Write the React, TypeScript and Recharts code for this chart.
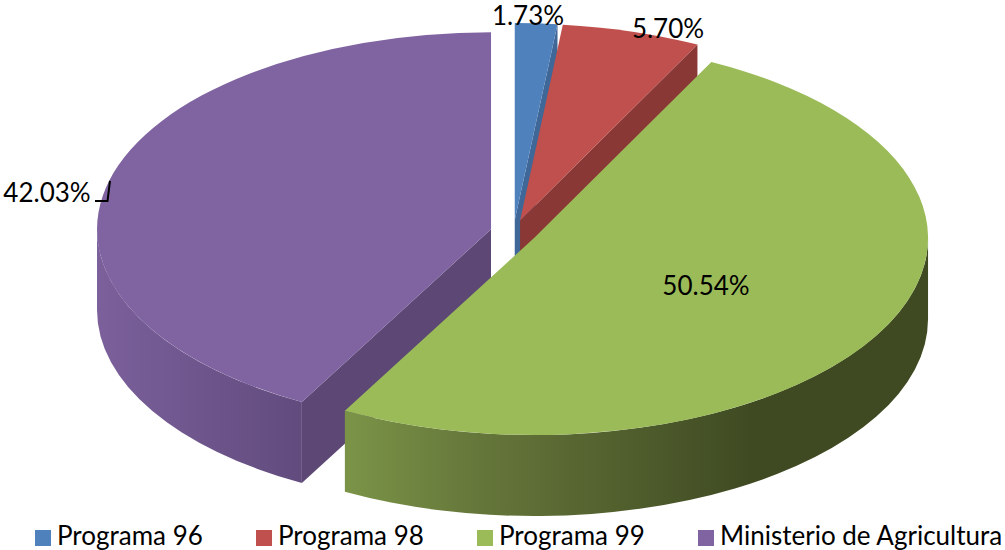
import React from "react";
import { PieChart, Pie, Legend } from "recharts";

const categories = ["Programa 96", "Programa 98", "Programa 99", "Ministerio de Agricultura"];
const shares = [1.73, 5.7, 50.54, 42.03];
const topColors = ["#4f81bd", "#c0504d", "#9bbb59", "#8064a2"];
const faceColors = ["#3f6797", "#893836", "#3f4a22", "#5c4775"];

const data = categories.map((name, i) => ({ name, value: shares[i], fill: topColors[i] }));

const FRONT = "Programa 99";
const FONT = "Lato, 'Open Sans', sans-serif";
const RATIO = 0.5;
const DEPTH = 81;
const EXPLODE_X = 23.2;
const EXPLODE_Y = 12.3;
const LABEL_SPOTS: Record<string, { dx: number; dy: number; anchor: string }> = {
  "Programa 96": { dx: 14.5, dy: -217.5, anchor: "middle" },
  "Programa 98": { dx: 154.5, dy: -204.5, anchor: "middle" },
  "Programa 99": { dx: 192.5, dy: 53, anchor: "middle" },
  "Ministerio de Agricultura": { dx: -466.5, dy: -40, anchor: "middle" },
};

const rad = (d: number) => (d * Math.PI) / 180;

function wedge(props: any) {
  const { cx, cy, outerRadius, startAngle, endAngle, name } = props;
  const t0 = 90 - startAngle;
  const t1 = 90 - endAngle;
  const mid = (t0 + t1) / 2;
  const rx = outerRadius;
  const ry = outerRadius * RATIO;
  const ox = cx + EXPLODE_X * Math.sin(rad(mid));
  const oy = cy - EXPLODE_Y * Math.cos(rad(mid));
  const pt = (t: number, d = 0): [number, number] => [ox + rx * Math.sin(rad(t)), oy - ry * Math.cos(rad(t)) + d];
  const idx = categories.indexOf(name);
  const face = faceColors[idx];
  const parts: React.ReactNode[] = [];

  const faceAt = (t: number, key: string) => {
    const [x, y] = pt(t);
    return (
      <path key={key} fill={face} d={`M${ox},${oy} L${x},${y} L${x},${y + DEPTH} L${ox},${oy + DEPTH} Z`} />
    );
  };
  if (t1 > 0 && t1 < 180) parts.push(faceAt(t1, "end"));
  if (t0 > 180 && t0 < 360) parts.push(faceAt(t0, "start"));

  const a0 = Math.max(t0, 90);
  const a1 = Math.min(t1, 270);
  const gid = `wall-${idx}`;
  if (a1 > a0) {
    const [x0, y0] = pt(a0);
    const [x1, y1] = pt(a1);
    const large = a1 - a0 > 180 ? 1 : 0;
    parts.push(
      <path
        key="wall"
        fill={`url(#${gid})`}
        d={`M${x0},${y0} A${rx},${ry} 0 ${large} 1 ${x1},${y1} L${x1},${y1 + DEPTH} A${rx},${ry} 0 ${large} 0 ${x0},${y0 + DEPTH} Z`}
      />
    );
  }
  const [sx, sy] = pt(t0);
  const [ex, ey] = pt(t1);
  const large = t1 - t0 > 180 ? 1 : 0;
  const isGreen = idx === 2;
  return (
    <g>
      <defs>
        <linearGradient id={gid} gradientUnits="userSpaceOnUse" x1={isGreen ? pt(208)[0] : ox - rx} x2={isGreen ? ox + rx * 0.55 : pt(208)[0]} y1={0} y2={0}>
          {isGreen ? (
            <>
              <stop offset="0" stopColor="#7a9347" />
              <stop offset="0.33" stopColor="#65763a" />
              <stop offset="1" stopColor="#3f4a22" />
            </>
          ) : (
            <>
              <stop offset="0" stopColor="#7b609b" />
              <stop offset="1" stopColor="#614b7d" />
            </>
          )}
        </linearGradient>
      </defs>
      {parts}
      <path fill={topColors[idx]} d={`M${ox},${oy} L${sx},${sy} A${rx},${ry} 0 ${large} 1 ${ex},${ey} Z`} />
    </g>
  );
}

const backShape = (props: any) => (props.name === FRONT ? <g /> : wedge(props));
const frontShape = (props: any) => (props.name === FRONT ? wedge(props) : <g />);

function labelFor(show: (n: string) => boolean) {
  return (props: any) => {
    const { cx, cy, name, value } = props;
    if (!show(name)) return <g />;
    const spot = LABEL_SPOTS[name];
    const isLeader = name === "Ministerio de Agricultura";
    return (
      <g>
        <text x={cx + spot.dx} y={cy + spot.dy} textAnchor={spot.anchor as any} dominantBaseline="central" fontFamily={FONT} fontSize={26} fill="#000">
          {`${Number(value).toFixed(2)}%`}
        </text>
        {isLeader ? (
          <polyline points={`${cx - 418.5},${cy - 31.3} ${cx - 406},${cy - 31.3} ${cx - 403.5},${cy - 51.5}`} fill="none" stroke="#000" strokeWidth={2} />
        ) : null}
      </g>
    );
  };
}

const LegendRow = () => (
  <div style={{ position: "relative", width: 1005, height: 30, fontFamily: FONT, fontSize: 26, color: "#000" }}>
    {categories.map((c, i) => (
      <div key={c} style={{ position: "absolute", left: 35 + i * 221, top: 0, height: 30, whiteSpace: "nowrap" }}>
        <span style={{ position: "absolute", left: 0, top: 10, width: 16, height: 16, background: topColors[i] }} />
        <span style={{ position: "absolute", left: 22, top: 3, lineHeight: "24px" }}>{c}</span>
      </div>
    ))}
  </div>
);

export default function App() {
  return (
    <div style={{ position: "absolute", left: 0, top: 0, width: 1005, height: 550, background: "#fff", overflow: "hidden" }}>
      <PieChart width={1005} height={550} margin={{ top: 0, right: 0, bottom: 0, left: 0 }}>
        <Pie
          data={data}
          dataKey="value"
          nameKey="name"
          cx={513.5}
          cy={232.3}
          innerRadius={0}
          outerRadius={394}
          startAngle={90}
          endAngle={-270}
          stroke="none"
          isAnimationActive={false}
          labelLine={false}
          label={labelFor((n) => n !== FRONT)}
          shape={backShape}
          rootTabIndex={-1}
        />
        <Pie
          data={data}
          dataKey="value"
          nameKey="name"
          cx={513.5}
          cy={232.3}
          innerRadius={0}
          outerRadius={394}
          startAngle={90}
          endAngle={-270}
          stroke="none"
          isAnimationActive={false}
          labelLine={false}
          label={labelFor((n) => n === FRONT)}
          legendType="none"
          shape={frontShape}
          rootTabIndex={-1}
        />
        <Legend content={<LegendRow />} wrapperStyle={{ left: 0, bottom: 0, top: 520, width: 1005, height: 30 }} />
      </PieChart>
    </div>
  );
}
